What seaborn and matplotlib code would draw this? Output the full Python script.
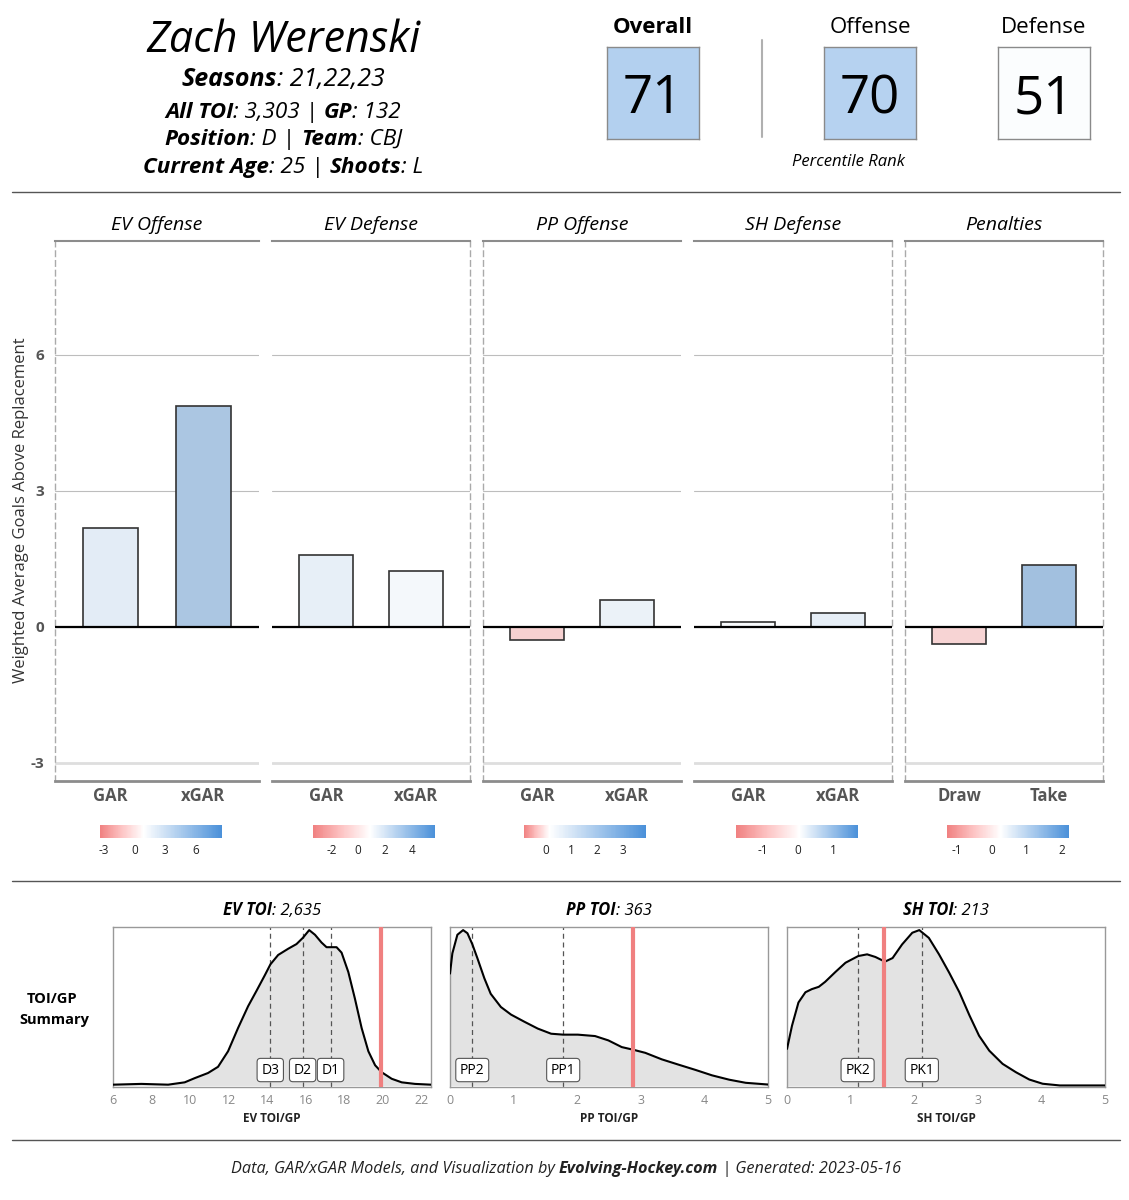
import numpy as np
import pandas as pd
import seaborn as sns
import matplotlib.pyplot as plt
from matplotlib import colors as mcolors
from matplotlib.colorbar import ColorbarBase
from matplotlib.lines import Line2D

W, H = 1129, 1200

# header info
player = "Zach Werenski"
info_lines = [
    [("Seasons", "bold"), (": 21,22,23", "normal")],
    [("All TOI", "bold"), (": 3,303 | ", "normal"), ("GP", "bold"), (": 132", "normal")],
    [("Position", "bold"), (": D | ", "normal"), ("Team", "bold"), (": CBJ", "normal")],
    [("Current Age", "bold"), (": 25 | ", "normal"), ("Shoots", "bold"), (": L", "normal")],
]
rank_names = ["Overall", "Offense", "Defense"]
rank_values = [71, 70, 51]

# GAR bars
panel_titles = ["EV Offense", "EV Defense", "PP Offense", "SH Defense", "Penalties"]
bar_labels = [["GAR", "xGAR"], ["GAR", "xGAR"], ["GAR", "xGAR"], ["GAR", "xGAR"], ["Draw", "Take"]]
bar_values = [[2.18, 4.87], [1.59, 1.24], [-0.29, 0.60], [0.11, 0.31], [-0.38, 1.37]]
scale_low = [-3.4, -3.37, -0.85, -1.77, -1.29]
scale_mid = [0.9, 0.9, 0.15, 0.05, 0.25]
scale_high = [8.6, 5.75, 3.9, 1.72, 2.22]
scale_ticks = [[-3, 0, 3, 6], [-2, 0, 2, 4], [0, 1, 2, 3], [-1, 0, 1], [-1, 0, 1, 2]]

# TOI/GP densities (scaled so peak = 1)
ev_x = [6.0, 7.47, 8.86, 9.72, 10.24, 10.93, 11.45, 11.97, 12.49, 13.01, 13.45, 13.88, 14.17, 14.57,
        15.09, 15.52, 15.85, 16.18, 16.48, 16.82, 17.08, 17.31, 17.6, 17.86, 18.21, 18.55, 18.9,
        19.25, 19.6, 19.94, 20.46, 20.98, 21.67, 22.5]
ev_y = [0.005, 0.01, 0.005, 0.02, 0.047, 0.08, 0.12, 0.22, 0.37, 0.51, 0.61, 0.71, 0.78, 0.84,
        0.88, 0.91, 0.95, 1.0, 0.97, 0.92, 0.89, 0.89, 0.89, 0.855, 0.73, 0.56, 0.37,
        0.22, 0.13, 0.085, 0.043, 0.02, 0.01, 0.005]
pp_x = [0.0, 0.037, 0.116, 0.206, 0.274, 0.35, 0.43, 0.54, 0.64, 0.80, 0.96, 1.17, 1.38, 1.59, 1.78,
        2.01, 2.28, 2.49, 2.70, 2.88, 3.07, 3.33, 3.6, 3.86, 4.12, 4.39, 4.65, 5.0]
pp_y = [0.72, 0.85, 0.97, 1.0, 0.98, 0.91, 0.82, 0.69, 0.59, 0.505, 0.456, 0.41, 0.366, 0.333, 0.327,
        0.327, 0.318, 0.29, 0.247, 0.23, 0.21, 0.168, 0.133, 0.10, 0.065, 0.037, 0.017, 0.006]
sh_x = [0.0, 0.079, 0.18, 0.29, 0.39, 0.5, 0.6, 0.76, 0.92, 1.12, 1.26, 1.39, 1.54, 1.66, 1.81,
        1.97, 2.08, 2.23, 2.39, 2.55, 2.71, 2.87, 3.02, 3.18, 3.39, 3.6, 3.81, 4.02, 4.29, 5.0]
sh_y = [0.235, 0.385, 0.534, 0.60, 0.62, 0.635, 0.667, 0.73, 0.79, 0.833, 0.844, 0.827, 0.797, 0.82, 0.908,
        0.983, 1.0, 0.95, 0.844, 0.726, 0.60, 0.45, 0.32, 0.224, 0.139, 0.085, 0.038, 0.011, 0.0, 0.0]

toi_names = ["EV TOI", "PP TOI", "SH TOI"]
toi_totals = ["2,635", "363", "213"]
toi_xlabels = ["EV TOI/GP", "PP TOI/GP", "SH TOI/GP"]
toi_player = [19.9, 2.88, 1.53]
role_names = [["D3", "D2", "D1"], ["PP2", "PP1"], ["PK2", "PK1"]]
role_values = [[14.16, 15.84, 17.29], [0.35, 1.78], [1.11, 2.12]]
toi_xlims = [(6, 22.5), (0, 5), (0, 5)]
toi_xticks = [list(range(6, 23, 2)), [0, 1, 2, 3, 4, 5], [0, 1, 2, 3, 4, 5]]

footer = [("Data, GAR/xGAR Models, and Visualization by ", "normal"),
          ("Evolving-Hockey.com", "bold"), (" | Generated: 2023-05-16", "normal")]

sns.set_theme(style="white")
plt.rcParams['font.family'] = ['Open Sans', 'DejaVu Sans']
plt.rcParams['text.color'] = 'black'
plt.rcParams['axes.labelcolor'] = 'black'
plt.rcParams['axes.unicode_minus'] = False

cmap = mcolors.LinearSegmentedColormap.from_list(
    "rwb", [(0.0, "#f08080"), (0.25, "#fdc4c4"), (0.5, "#ffffff"), (1.0, "#4a90d9")])

fig = plt.figure(figsize=(W / 100, H / 100), dpi=100)
fig.patch.set_facecolor("white")
renderer = fig.canvas.get_renderer()


def fx(px):
    return px / W


def fy(py):
    return 1 - py / H


def text_width(s, **kw):
    t = fig.text(0, 0, "|" + s + "|", **kw)
    w = t.get_window_extent(renderer).width
    t.remove()
    t = fig.text(0, 0, "||", **kw)
    w0 = t.get_window_extent(renderer).width
    t.remove()
    return w - w0


def rich_text(cx, base_y, parts, size, color="black"):
    widths = [text_width(s, fontsize=size, fontstyle="italic", fontweight=wt) for s, wt in parts]
    x = cx - sum(widths) / 2
    for (s, wt), w in zip(parts, widths):
        fig.text(fx(x), fy(base_y), s, fontsize=size, fontstyle="italic", fontweight=wt,
                 color=color, ha="left", va="baseline")
        x += w


def hline(y, x0=12, x1=1120):
    fig.add_artist(Line2D([fx(x0), fx(x1)], [fy(y), fy(y)], transform=fig.transFigure,
                          color="#555555", lw=1))


# ---- header ----
fig.text(fx(283), fy(52), player, fontsize=31, fontstyle="italic",
         ha="center", va="baseline")
for line, (yb, sz) in zip(info_lines, [(86, 18), (118, 16.2), (145, 16.2), (173, 16.2)]):
    rich_text(283, yb, line, sz)

box_x = [607, 824, 998]
rank_norm = mcolors.TwoSlopeNorm(vcenter=50, vmin=0, vmax=100)
for name, val, bx in zip(rank_names, rank_values, box_x):
    bax = fig.add_axes([fx(bx), fy(139), fx(92), 92 / H])
    bax.set_facecolor(cmap(rank_norm(val)))
    bax.set_xticks([])
    bax.set_yticks([])
    for sp in bax.spines.values():
        sp.set_color("#8a8a8a")
        sp.set_linewidth(1)
    bax.text(0.5, 0.5, str(val), fontsize=38, ha="center", va="center_baseline",
             transform=bax.transAxes, color="black")
    fig.text(fx(bx + 46), fy(33), name, fontsize=16,
             fontweight="bold" if name == "Overall" else "normal", ha="center", va="baseline")
fig.add_artist(Line2D([fx(762), fx(762)], [fy(40), fy(137)], transform=fig.transFigure,
                      color="#b0b0b0", lw=1.5))
fig.text(fx(848), fy(166), "Percentile Rank", fontsize=12, fontstyle="italic",
         ha="center", va="baseline")

hline(192)

# ---- GAR panels ----
panel_x = [(55, 259), (272, 470), (483, 681), (694, 892), (905, 1103)]
dashed_left = [True, False, True, False, True]
dashed_right = [False, True, False, True, True]
cbar_x = [100, 313, 524, 736, 947]

for i in range(5):
    x0, x1 = panel_x[i]
    ax = fig.add_axes([fx(x0), fy(781), fx(x1 - x0), 540 / H])
    norm = mcolors.TwoSlopeNorm(vcenter=scale_mid[i], vmin=scale_low[i], vmax=scale_high[i])
    fills = [cmap(norm(v)) for v in bar_values[i]]
    df = pd.DataFrame({"label": bar_labels[i], "value": bar_values[i]})
    sns.barplot(data=df, x="label", y="value", hue="label", palette=fills, width=0.6,
                edgecolor="#333333", linewidth=1.2, legend=False, ax=ax, zorder=3)
    ax.axhline(0, color="black", lw=1.6, zorder=4)
    ax.set_xlim(-0.6, 1.6)
    ax.set_ylim(-3.4, 8.51)
    ax.set_yticks([-3, 0, 3, 6])
    ax.grid(axis="y", color="#bdbdbd", lw=0.8, zorder=0)
    ax.yaxis.get_gridlines()[0].set_color("#dedede")
    ax.yaxis.get_gridlines()[0].set_linewidth(2)
    ax.set_xlabel("")
    ax.set_ylabel("")
    ax.tick_params(axis="both", length=0)
    ax.tick_params(axis="x", pad=4, labelsize=12, labelcolor="#555555")
    for lab in ax.get_xticklabels():
        lab.set_fontweight("bold")
    if i == 0:
        ax.tick_params(axis="y", pad=8, labelsize=11, labelcolor="#555555")
        for lab in ax.get_yticklabels():
            lab.set_fontweight("bold")
    else:
        ax.tick_params(axis="y", labelleft=False)
    ax.set_title(panel_titles[i], fontsize=14, fontstyle="italic", pad=8)
    ax.spines["top"].set_color("#8c8c8c")
    ax.spines["top"].set_linewidth(1.5)
    ax.spines["bottom"].set_color("#8c8c8c")
    ax.spines["bottom"].set_linewidth(2)
    for side, show in (("left", dashed_left[i]), ("right", dashed_right[i])):
        sp = ax.spines[side]
        sp.set_visible(show)
        sp.set_color("#aaaaaa")
        sp.set_linewidth(1)
        sp.set_linestyle((0, (4, 3)))

    cax = fig.add_axes([fx(cbar_x[i]), fy(838), fx(122), 13 / H])
    cb = ColorbarBase(cax, cmap=cmap, norm=norm, orientation="horizontal",
                      boundaries=np.linspace(scale_low[i], scale_high[i], 257),
                      spacing="proportional", ticks=scale_ticks[i])
    cb.outline.set_visible(False)
    cax.tick_params(axis="x", direction="in", length=3, width=0.8, color="white",
                    labelcolor="#222222", labelsize=8.5, pad=4)

fig.text(fx(21), fy(510), "Weighted Average Goals Above Replacement", fontsize=12,
         color="#333333", rotation=90, ha="center", va="center")

hline(881)

# ---- TOI/GP densities ----
fig.text(fx(52), fy(1003), "TOI/GP", fontsize=10.5, fontweight="bold", ha="center", va="baseline")
fig.text(fx(54), fy(1024), "Summary", fontsize=10.5, fontweight="bold", ha="center", va="baseline")

dens_x = [ev_x, pp_x, sh_x]
dens_y = [ev_y, pp_y, sh_y]
dens_left = [113, 450, 787]
for j in range(3):
    x0 = dens_left[j]
    ax = fig.add_axes([fx(x0), fy(1087), fx(318), 160 / H])
    ax.fill_between(dens_x[j], dens_y[j], 0, color="#e3e3e3", lw=0, zorder=1)
    for rv in role_values[j]:
        ax.axvline(rv, color="#555555", lw=0.9, ls=(0, (4, 3)), zorder=2)
    sns.lineplot(x=dens_x[j], y=dens_y[j], color="black", lw=1.5, ax=ax, zorder=3)
    ax.axvline(toi_player[j], color="#f08080", lw=3, zorder=4)
    for rn, rv in zip(role_names[j], role_values[j]):
        ax.text(rv, 0.106, rn, transform=ax.get_xaxis_transform(), fontsize=10,
                ha="center", va="center", zorder=5,
                bbox=dict(boxstyle="round,pad=0.3,rounding_size=0.25", fc="white",
                          ec="#555555", lw=0.8))
    ax.set_xlim(*toi_xlims[j])
    ax.set_ylim(-0.01, 1.02)
    ax.set_xticks(toi_xticks[j])
    ax.set_yticks([])
    ax.tick_params(axis="x", length=0, pad=5, labelsize=9, labelcolor="#888888")
    ax.set_xlabel(toi_xlabels[j], fontsize=8.5, fontweight="bold", color="#222222", labelpad=4)
    for sp in ax.spines.values():
        sp.set_visible(True)
        sp.set_color("#999999")
        sp.set_linewidth(1)
    rich_text(x0 + 159, 915, [(toi_names[j], "bold"), (": " + toi_totals[j], "normal")], 12)

hline(1140)
rich_text(566, 1173, footer, 11.7, color="#222222")

fig.savefig("out.png", dpi=100)
